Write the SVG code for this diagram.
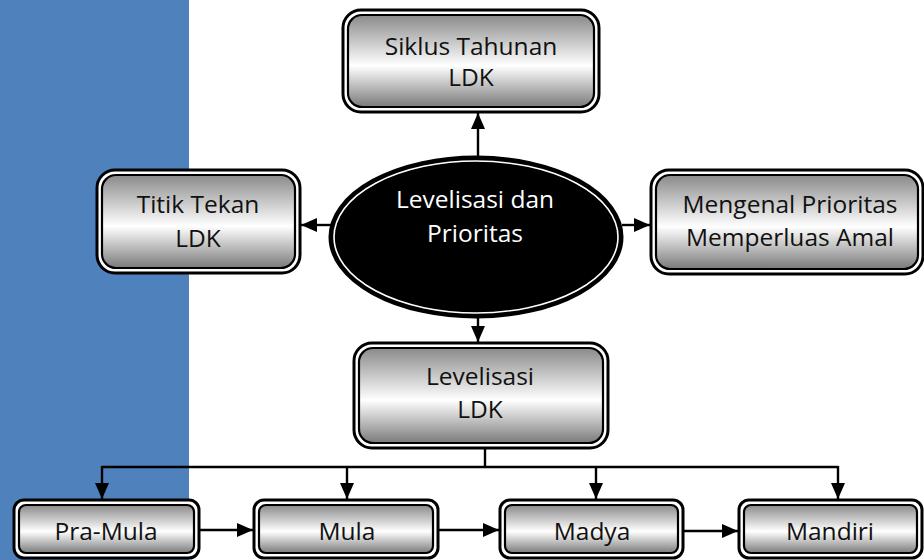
<svg xmlns="http://www.w3.org/2000/svg" width="924" height="560" viewBox="0 0 924 560">
  <defs>
    <linearGradient id="boxFill" x1="0" y1="0" x2="0" y2="1">
      <stop offset="0" stop-color="#8a8a8a"/>
      <stop offset="0.55" stop-color="#ffffff"/>
      <stop offset="1" stop-color="#7a7a7a"/>
    </linearGradient>
    <marker id="arrow" viewBox="0 0 16 14" refX="16" refY="7" markerWidth="16" markerHeight="14" markerUnits="userSpaceOnUse" orient="auto">
      <path d="M0,0 L16,7 L0,14 Z" fill="#000"/>
    </marker>
    <style>
      .outer { fill: #ffffff; stroke: #000; stroke-width: 3; }
      .inner { fill: url(#boxFill); stroke: #000; stroke-width: 2.2; }
      .label { font-family: "Open Sans", "DejaVu Sans", sans-serif; font-size: 24.5px; fill: #111; text-anchor: middle; }
      .hub-label { font-family: "Open Sans", "DejaVu Sans", sans-serif; font-size: 24.5px; fill: #fff; text-anchor: middle; }
      .conn { fill: none; stroke: #000; stroke-width: 2.4; }
    </style>
  </defs>

  <!-- side band -->
  <rect x="0" y="0" width="189" height="560" fill="#4f81bd"/>

  <!-- connectors -->
  <g id="connectors">
    <path class="conn" d="M478,157 V113" marker-end="url(#arrow)"/>
    <path class="conn" d="M331,225 H301" marker-end="url(#arrow)"/>
    <path class="conn" d="M622,225 H650" marker-end="url(#arrow)"/>
    <path class="conn" d="M478,317 V342" marker-end="url(#arrow)"/>
    <path class="conn" d="M485,448 V467"/>
    <path class="conn" d="M102,467 H838"/>
    <path class="conn" d="M102,466 V499" marker-end="url(#arrow)"/>
    <path class="conn" d="M347,466 V499" marker-end="url(#arrow)"/>
    <path class="conn" d="M596,466 V499" marker-end="url(#arrow)"/>
    <path class="conn" d="M838,466 V499" marker-end="url(#arrow)"/>
    <path class="conn" d="M199,530 H253" marker-end="url(#arrow)"/>
    <path class="conn" d="M438,530 H499" marker-end="url(#arrow)"/>
    <path class="conn" d="M683,531 H738" marker-end="url(#arrow)"/>
  </g>

  <!-- top -->
  <g id="siklus">
    <rect class="outer" x="343" y="10" width="256" height="102" rx="18"/>
    <rect class="inner" x="348" y="15" width="246" height="92" rx="14"/>
    <text class="label" x="471" y="55">Siklus Tahunan</text>
    <text class="label" x="471" y="86">LDK</text>
  </g>

  <!-- left -->
  <g id="titik-tekan">
    <rect class="outer" x="97" y="170" width="203" height="103" rx="18"/>
    <rect class="inner" x="102" y="175" width="193" height="93" rx="14"/>
    <text class="label" x="198" y="213">Titik Tekan</text>
    <text class="label" x="198" y="247">LDK</text>
  </g>

  <!-- centre hub -->
  <g id="hub">
    <ellipse cx="476" cy="237" rx="146" ry="80" fill="#000" stroke="#000" stroke-width="3"/>
    <ellipse cx="476" cy="237" rx="142" ry="76" fill="#000" stroke="#fff" stroke-width="1.6"/>
    <text class="hub-label" x="475" y="208">Levelisasi dan</text>
    <text class="hub-label" x="475" y="242">Prioritas</text>
  </g>

  <!-- right -->
  <g id="mengenal">
    <rect class="outer" x="651" y="170" width="272" height="104" rx="18"/>
    <rect class="inner" x="656" y="175" width="262" height="94" rx="14"/>
    <text class="label" x="790" y="213">Mengenal Prioritas</text>
    <text class="label" x="790" y="246">Memperluas Amal</text>
  </g>

  <!-- levelisasi -->
  <g id="levelisasi">
    <rect class="outer" x="354" y="343" width="254" height="105" rx="18"/>
    <rect class="inner" x="359" y="348" width="244" height="95" rx="14"/>
    <text class="label" x="480" y="385">Levelisasi</text>
    <text class="label" x="480" y="418">LDK</text>
  </g>

  <!-- levels -->
  <g id="pra-mula">
    <rect class="outer" x="14" y="500" width="185" height="58" rx="10"/>
    <rect class="inner" x="19" y="505" width="175" height="48" rx="7"/>
    <text class="label" x="106" y="540">Pra-Mula</text>
  </g>
  <g id="mula">
    <rect class="outer" x="254" y="500" width="184" height="58" rx="10"/>
    <rect class="inner" x="259" y="505" width="174" height="48" rx="7"/>
    <text class="label" x="347" y="540">Mula</text>
  </g>
  <g id="madya">
    <rect class="outer" x="500" y="500" width="183" height="58" rx="10"/>
    <rect class="inner" x="505" y="505" width="173" height="48" rx="7"/>
    <text class="label" x="592" y="540">Madya</text>
  </g>
  <g id="mandiri">
    <rect class="outer" x="739" y="500" width="183" height="58" rx="10"/>
    <rect class="inner" x="744" y="505" width="173" height="48" rx="7"/>
    <text class="label" x="830" y="540">Mandiri</text>
  </g>
</svg>
